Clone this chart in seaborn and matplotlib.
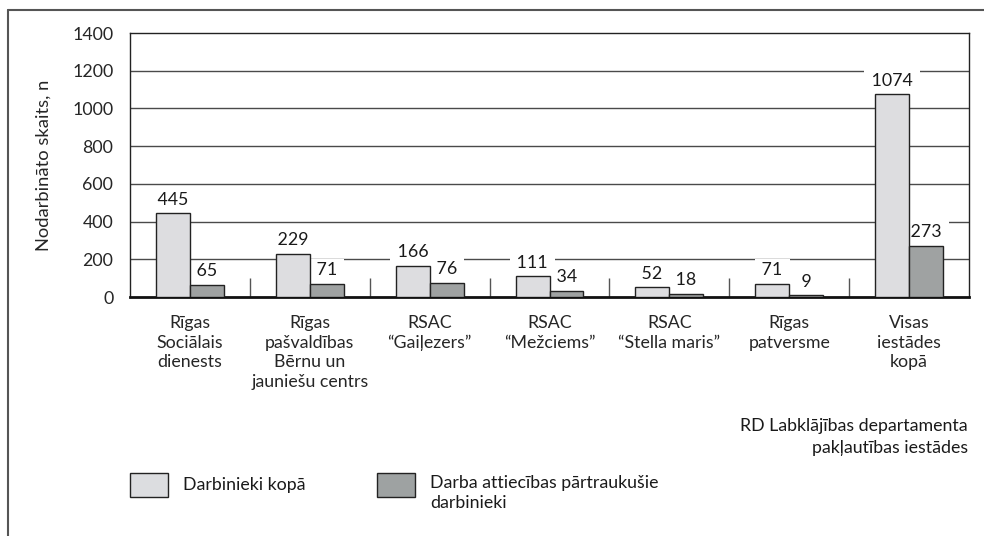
import numpy as np
import pandas as pd
import matplotlib.pyplot as plt
import matplotlib.lines as mlines
import matplotlib.patches as mpatches
import seaborn as sns

# --------------------------------
# DATA
# --------------------------------

iestades = [
    "Rīgas\nSociālais\ndienests",
    "Rīgas\npašvaldības\nBērnu un\njauniešu centrs",
    "RSAC\n“Gaiļezers”",
    "RSAC\n“Mežciems”",
    "RSAC\n“Stella maris”",
    "Rīgas\npatversme",
    "Visas\niestādes\nkopā",
]
darbinieki_kopa = [445, 229, 166, 111, 52, 71, 1074]
partraukusie = [65, 71, 76, 34, 18, 9, 273]
series_names = ["Darbinieki kopā", "Darba attiecības pārtraukušie\ndarbinieki"]
y_ticks = [0, 200, 400, 600, 800, 1000, 1200, 1400]

data = pd.DataFrame({
    "iestade": iestades * 2,
    "skaits": darbinieki_kopa + partraukusie,
    "grupa": [series_names[0]] * len(iestades) + [series_names[1]] * len(iestades),
})

# --------------------------------
# STYLE
# --------------------------------

sns.set_style("white")
plt.rcParams["font.family"] = ["Lato", "DejaVu Sans"]
plt.rcParams["font.size"] = 12.8
plt.rcParams["text.color"] = "#1a1a1a"

fs = 12.8
light = "#dcdde0"
dark = "#9ea2a2"
edge = "#222222"
grid_col = "#4a4a4a"

fig = plt.figure(figsize=(9.84, 5.36), dpi=100)
ax = fig.add_axes([130 / 984, 1 - 297 / 536, 839 / 984, 264 / 536])

sns.barplot(
    data=data,
    x="iestade",
    y="skaits",
    hue="grupa",
    palette=[light, dark],
    width=0.567,
    edgecolor=edge,
    linewidth=1.0,
    ax=ax,
    zorder=3,
    legend=False,
)

ax.set_ylim(0, 1400)
ax.set_yticks(y_ticks)
ax.set_xlim(-0.5, len(iestades) - 0.5)

# gridlines behind bars
for yv in y_ticks[1:-1]:
    ax.axhline(yv, color=grid_col, linewidth=1.0, zorder=1)

# value labels with white background
for cont in ax.containers:
    ax.bar_label(
        cont,
        fmt=" {:.0f} ",
        padding=4,
        fontsize=fs,
        bbox=dict(boxstyle="square,pad=0.15", facecolor="white", edgecolor="none"),
        zorder=2,
    )

# separators between groups
ax.set_xticks(np.arange(len(iestades) - 1) + 0.5, minor=True)
ax.tick_params(axis="x", which="minor", direction="in", length=14, width=1, color="#555555", bottom=True)
ax.tick_params(axis="x", which="major", length=0, pad=13, labelsize=fs)
ax.tick_params(axis="y", length=0, pad=12, labelsize=fs)
for lbl in ax.get_xticklabels():
    lbl.set_linespacing(1.28)

for side in ["left", "top", "right"]:
    ax.spines[side].set_visible(True)
    ax.spines[side].set_color("#222222")
    ax.spines[side].set_linewidth(1.0)
ax.spines["bottom"].set_color("#111111")
ax.spines["bottom"].set_linewidth(2.0)

ax.set_xlabel("")
ax.set_ylabel("Nodarbināto skaits, n", fontsize=13.2, labelpad=15)

fig.text(968 / 984, 1 - 437 / 536, "RD Labklājības departamenta\npakļautības iestādes",
         ha="right", va="center", fontsize=fs, linespacing=1.45)

# legend (patches + text)
fig.patches.append(mpatches.Rectangle((130 / 984, 1 - 497 / 536), 38 / 984, 24 / 536,
                                      facecolor=light, edgecolor=edge, linewidth=1.0,
                                      transform=fig.transFigure, figure=fig))
fig.text(183 / 984, 1 - 485 / 536, series_names[0], ha="left", va="center", fontsize=fs)
fig.patches.append(mpatches.Rectangle((377 / 984, 1 - 497 / 536), 38 / 984, 24 / 536,
                                      facecolor=dark, edgecolor=edge, linewidth=1.0,
                                      transform=fig.transFigure, figure=fig))
fig.text(430 / 984, 1 - 475 / 536, series_names[1], ha="left", va="top", fontsize=fs,
         linespacing=1.3)

# outer frame
fig.add_artist(mlines.Line2D([8 / 984, 8 / 984], [0, 1 - 10 / 536], color="#555555", linewidth=1.5))
fig.add_artist(mlines.Line2D([8 / 984, 1], [1 - 10 / 536, 1 - 10 / 536], color="#555555", linewidth=1.5))

plt.savefig("out.png", dpi=100)
